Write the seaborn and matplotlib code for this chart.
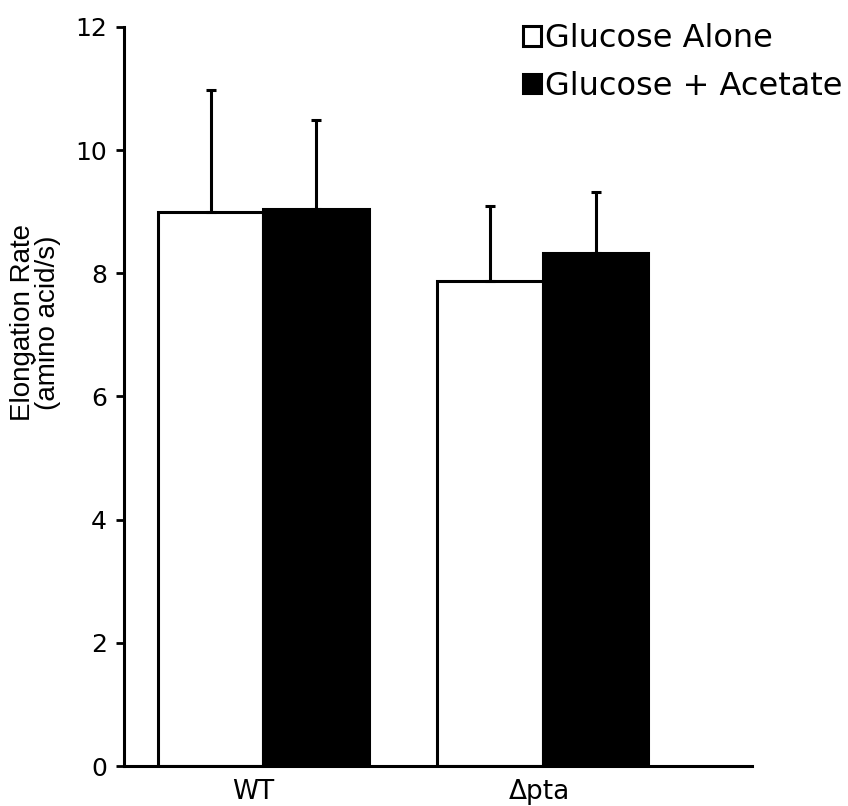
import matplotlib
matplotlib.use("Agg")
import matplotlib.pyplot as plt
import matplotlib.transforms as mtransforms
import seaborn as sns
import pandas as pd
from matplotlib.font_manager import findfont, FontProperties

strains = ["WT", "Δpta"]
conditions = ["Glucose Alone", "Glucose + Acetate"]
rate_alone = [9.0, 7.87]
rate_acetate = [9.04, 8.33]
err_alone = [1.97, 1.22]
err_acetate = [1.45, 0.99]

sns.set_theme(style="ticks")
plt.rcParams["font.family"] = ["DejaVu Sans"]
plt.rcParams["text.color"] = "black"
plt.rcParams["xtick.color"] = "black"
plt.rcParams["ytick.color"] = "black"
plt.rcParams["axes.labelcolor"] = "black"

narrow = "Liberation Sans Narrow"
try:
    findfont(FontProperties(family=narrow), fallback_to_default=False)
except Exception:
    narrow = "Liberation Sans"

df = pd.DataFrame({
    "Strain": strains * 2,
    "Condition": [conditions[0]] * 2 + [conditions[1]] * 2,
    "Rate": rate_alone + rate_acetate,
    "Err": err_alone + err_acetate,
})

fig = plt.figure(figsize=(8.48, 8.06), dpi=100)
ax = fig.add_axes([0.146, 0.0496, 0.741, 0.917])

sns.barplot(data=df, x="Strain", y="Rate", hue="Condition", order=strains,
            hue_order=conditions, palette=["white", "black"], errorbar=None,
            width=0.757, edgecolor="black", linewidth=2.2, ax=ax, saturation=1)

for cont, errs in zip(ax.containers, [err_alone, err_acetate]):
    for patch, e in zip(cont.patches, errs):
        xc = patch.get_x() + patch.get_width() / 2
        h = patch.get_height()
        ax.errorbar(xc, h, yerr=[[0], [e]], fmt="none", ecolor="black",
                    elinewidth=2.2, capsize=3.5, capthick=2.2, zorder=1)

ax.set_ylim(0, 12)
ax.set_xlim(-0.5, 1.75)
ax.set_yticks([0, 2, 4, 6, 8, 10, 12])
ax.tick_params(axis="y", labelsize=18, width=2, length=6, direction="out", pad=6)
ax.tick_params(axis="x", length=0, pad=9, labelsize=19)
# the original labels sit a little left of the group centres
for lbl, dx in zip(ax.get_xticklabels(), [-10, -3]):
    lbl.set_transform(lbl.get_transform() +
                      mtransforms.ScaledTranslation(dx / 100, 0, fig.dpi_scale_trans))
ax.set_xlabel("")
ax.set_ylabel("Elongation Rate\n(amino acid/s)", fontsize=20, family=narrow,
              linespacing=0.95)
ax.yaxis.set_label_coords(-0.1, 0.6)
sns.despine(ax=ax)
for s in ["left", "bottom"]:
    ax.spines[s].set_linewidth(2.2)
    ax.spines[s].set_color("black")

handles, labels = ax.get_legend_handles_labels()
ax.legend(handles, labels, loc="upper right", bbox_to_anchor=(1.012, 0.991),
          bbox_transform=fig.transFigure, frameon=False, fontsize=23,
          handlelength=0.55, handleheight=0.55, handletextpad=0.12,
          labelspacing=0.52, borderaxespad=0.1)

fig.savefig("out.png", dpi=100)
